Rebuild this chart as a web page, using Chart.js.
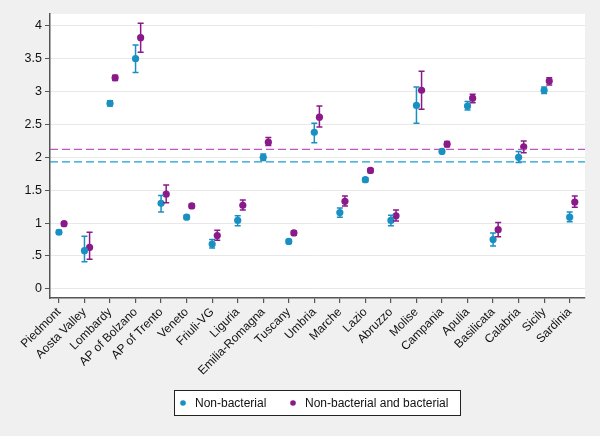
<!DOCTYPE html>
<html>
<head>
<meta charset="utf-8">
<script src="https://cdn.jsdelivr.net/npm/chart.js"></script>
<style>
  html, body { margin: 0; padding: 0; background: #f0f0f0; }
  #wrap { width: 600px; height: 436px; }
</style>
</head>
<body>
<div id="wrap"><canvas id="chart"></canvas></div>
<script>
// regions
const regions = ["Piedmont", "Aosta Valley", "Lombardy", "AP of Bolzano", "AP of Trento", "Veneto",
  "Friuli-VG", "Liguria", "Emilia-Romagna", "Tuscany", "Umbria", "Marche", "Lazio", "Abruzzo",
  "Molise", "Campania", "Apulia", "Basilicata", "Calabria", "Sicily", "Sardinia"];

// Non-bacterial
const nbVal = [0.86, 0.58, 2.82, 3.50, 1.30, 1.09, 0.68, 1.04, 2.00, 0.72, 2.38, 1.16, 1.66, 1.04, 2.79, 2.09, 2.78, 0.75, 2.00, 3.02, 1.09];
const nbLo  = [0.83, 0.41, 2.78, 3.29, 1.17, 1.06, 0.62, 0.96, 1.95, 0.69, 2.22, 1.09, 1.63, 0.96, 2.52, 2.06, 2.72, 0.65, 1.92, 2.97, 1.02];
const nbHi  = [0.89, 0.80, 2.86, 3.71, 1.42, 1.12, 0.75, 1.11, 2.05, 0.75, 2.52, 1.23, 1.69, 1.12, 3.07, 2.12, 2.85, 0.85, 2.09, 3.07, 1.17];

// Non-bacterial and bacterial
const nbbVal = [0.99, 0.63, 3.21, 3.82, 1.44, 1.26, 0.81, 1.27, 2.23, 0.85, 2.61, 1.33, 1.80, 1.11, 3.02, 2.20, 2.90, 0.90, 2.16, 3.16, 1.32];
const nbbLo  = [0.96, 0.45, 3.17, 3.60, 1.31, 1.23, 0.74, 1.20, 2.18, 0.82, 2.46, 1.26, 1.77, 1.03, 2.73, 2.16, 2.83, 0.79, 2.07, 3.10, 1.24];
const nbbHi  = [1.02, 0.86, 3.25, 4.04, 1.58, 1.29, 0.89, 1.35, 2.30, 0.88, 2.78, 1.41, 1.83, 1.20, 3.31, 2.24, 2.96, 1.01, 2.25, 3.21, 1.41];

// mean lines
const nbMean = 1.93;
const nbbMean = 2.12;

const yTicks = [0, 0.5, 1, 1.5, 2, 2.5, 3, 3.5, 4];
const yTickLabels = ["0", ".5", "1", "1.5", "2", "2.5", "3", "3.5", "4"];

const blue = '#1a90c2';
const purple = '#8a1a8a';
const xMin = -0.35, xMax = 20.6;
const shift = 0.2;

function pts(vals, lo, hi, off) {
  return vals.map((v, i) => ({ x: i + off, y: v, lo: lo[i], hi: hi[i] }));
}

// weisser Plotbereich
const plotBg = {
  id: 'plotBg',
  beforeDraw(chart) {
    const { ctx, chartArea: a } = chart;
    ctx.save();
    ctx.fillStyle = '#ffffff';
    ctx.fillRect(a.left, a.top, a.right - a.left, a.bottom - a.top);
    ctx.restore();
  }
};

// Fehlerbalken
const errorBars = {
  id: 'errorBars',
  afterDatasetsDraw(chart) {
    const { ctx, scales } = chart;
    chart.data.datasets.forEach((ds, di) => {
      if (!ds.errBars) return;
      ctx.save();
      ctx.strokeStyle = ds.borderColor;
      ctx.lineWidth = 1.5;
      ds.data.forEach(p => {
        const x = scales.x.getPixelForValue(p.x);
        const y1 = scales.y.getPixelForValue(p.lo);
        const y2 = scales.y.getPixelForValue(p.hi);
        ctx.beginPath();
        ctx.moveTo(x, y1); ctx.lineTo(x, y2);
        ctx.moveTo(x - 3, y1); ctx.lineTo(x + 3, y1);
        ctx.moveTo(x - 3, y2); ctx.lineTo(x + 3, y2);
        ctx.stroke();
      });
      ctx.restore();
    });
  }
};

// Legende mit Rahmen
const boxLegend = {
  id: 'boxLegend',
  afterDraw(chart) {
    const ctx = chart.ctx;
    const left = 174, top = 390, w = 286, h = 25;
    ctx.save();
    ctx.fillStyle = '#ffffff';
    ctx.fillRect(left, top, w, h);
    ctx.strokeStyle = '#222';
    ctx.lineWidth = 1;
    ctx.strokeRect(left + 0.5, top + 0.5, w, h);
    ctx.font = '12px "Liberation Sans", Arial, sans-serif';
    ctx.textBaseline = 'middle';
    const items = [
      { label: 'Non-bacterial', color: blue, x: 183 },
      { label: 'Non-bacterial and bacterial', color: purple, x: 293 }
    ];
    items.forEach(it => {
      ctx.fillStyle = it.color;
      ctx.beginPath();
      ctx.arc(it.x, top + h / 2 + 0.5, 2.8, 0, Math.PI * 2);
      ctx.fill();
      ctx.fillStyle = '#111';
      ctx.fillText(it.label, it.x + 12, top + h / 2 + 1);
    });
    ctx.restore();
  }
};

document.addEventListener('DOMContentLoaded', () => {
  const ctx = document.getElementById('chart').getContext('2d');
  new Chart(ctx, {
    type: 'scatter',
    data: {
      datasets: [
        {
          label: 'mean nb',
          type: 'line',
          data: [{ x: xMin, y: nbMean }, { x: xMax, y: nbMean }],
          borderColor: '#1a9fd0',
          borderWidth: 1.3,
          borderDash: [8, 4],
          pointRadius: 0,
          fill: false
        },
        {
          label: 'mean nbb',
          type: 'line',
          data: [{ x: xMin, y: nbbMean }, { x: xMax, y: nbbMean }],
          borderColor: '#bd56bd',
          borderWidth: 1.3,
          borderDash: [8, 4],
          pointRadius: 0,
          fill: false
        },
        {
          label: 'Non-bacterial',
          data: pts(nbVal, nbLo, nbHi, 0),
          backgroundColor: blue,
          borderColor: blue,
          pointRadius: 3.6,
          pointBorderWidth: 0,
          errBars: true
        },
        {
          label: 'Non-bacterial and bacterial',
          data: pts(nbbVal, nbbLo, nbbHi, shift),
          backgroundColor: purple,
          borderColor: purple,
          pointRadius: 3.6,
          pointBorderWidth: 0,
          errBars: true
        }
      ]
    },
    options: {
      responsive: true,
      maintainAspectRatio: false,
      animation: false,
      layout: { padding: { top: 14, right: 15, left: 0, bottom: 50 } },
      plugins: {
        legend: { display: false },
        tooltip: { enabled: false }
      },
      scales: {
        x: {
          type: 'linear',
          min: xMin,
          max: xMax,
          afterBuildTicks(scale) {
            scale.ticks = regions.map((r, i) => ({ value: i }));
          },
          afterFit(scale) { scale.height = 88; },
          ticks: {
            autoSkip: false,
            minRotation: 45,
            maxRotation: 45,
            padding: 2,
            color: '#111',
            font: { family: '"Liberation Sans", Arial, sans-serif', size: 12 },
            callback: (v) => regions[v]
          },
          grid: {
            display: true,
            drawOnChartArea: false,
            drawTicks: true,
            tickLength: 5,
            color: '#555',
            lineWidth: 1.2
          },
          border: { display: true, color: '#555', width: 1.5 }
        },
        y: {
          min: -0.14,
          max: 4.18,
          afterBuildTicks(scale) {
            scale.ticks = yTicks.map(v => ({ value: v }));
          },
          afterFit(scale) { scale.width = 50; },
          ticks: {
            padding: 3,
            color: '#111',
            font: { family: '"Liberation Sans", Arial, sans-serif', size: 12.5 },
            callback: (v) => yTickLabels[yTicks.indexOf(v)]
          },
          grid: {
            color: '#e8e8e8',
            lineWidth: 1,
            drawTicks: true,
            tickLength: 5,
            tickColor: '#555'
          },
          border: { display: true, color: '#555', width: 1.5 }
        }
      }
    },
    plugins: [plotBg, errorBars, boxLegend]
  });
});
</script>
</body>
</html>
